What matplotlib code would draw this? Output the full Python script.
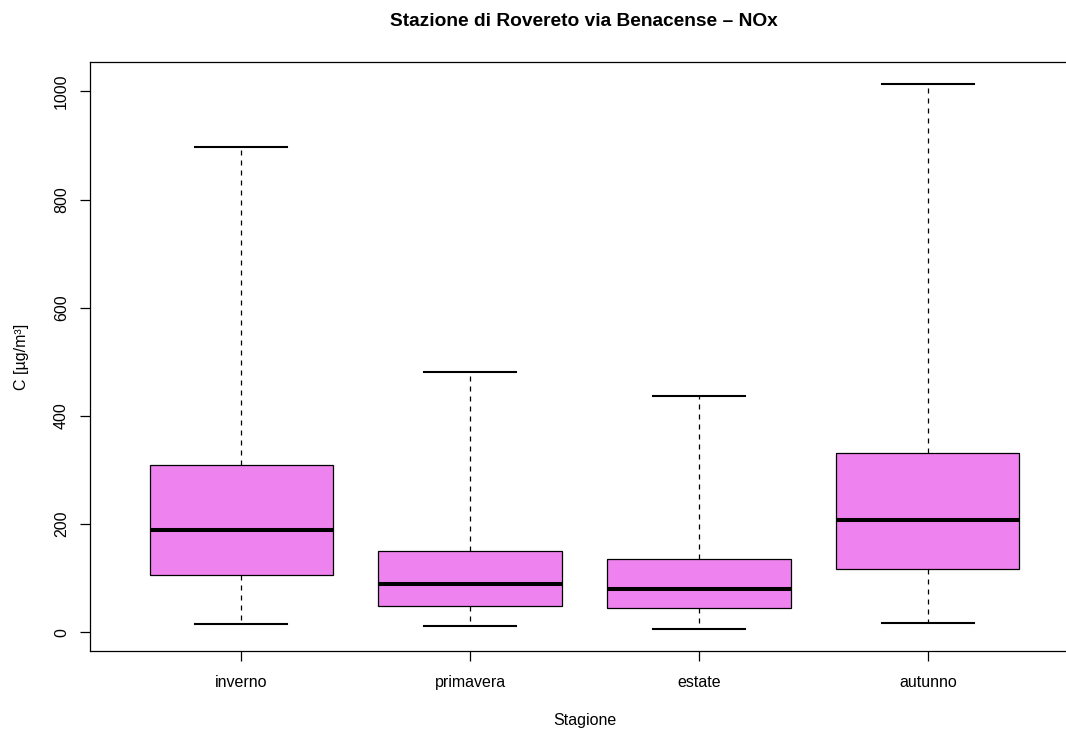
import matplotlib.pyplot as plt

plt.rcParams["font.family"] = ["Liberation Sans", "DejaVu Sans"]

# season box statistics (NOx, µg/m³)
seasons = ["inverno", "primavera", "estate", "autunno"]
whislo = [16, 12, 6, 17]
q1 = [106, 49, 46, 117]
med = [190, 89, 81, 208]
q3 = [309, 150, 135, 332]
whishi = [897, 481, 437, 1014]

stats = []
for i, name in enumerate(seasons):
    stats.append({"label": name, "whislo": whislo[i], "q1": q1[i], "med": med[i],
                  "q3": q3[i], "whishi": whishi[i], "fliers": []})

fig = plt.figure(figsize=(10.66, 7.31), dpi=100)
# plot region runs past the right edge of the picture, as in the reference
ax = fig.add_axes([90 / 1066, 1 - 651 / 731, 989 / 1066, 589 / 731])

ax.bxp(stats, positions=range(1, len(seasons) + 1), widths=0.8, patch_artist=True,
       showfliers=False,
       boxprops=dict(facecolor="violet", edgecolor="black", linewidth=0.9),
       medianprops=dict(color="black", linewidth=2.9),
       whiskerprops=dict(color="black", linewidth=0.9, linestyle=(0, (4, 4))),
       capprops=dict(color="black", linewidth=1.5),
       capwidths=0.4)

lo, hi = min(whislo), max(whishi)
pad = (hi - lo) * 0.04
ax.set_ylim(lo - pad, hi + pad)
ax.set_xlim(0.34, 4.66)
ax.set_yticks([0, 200, 400, 600, 800, 1000])
ax.set_xticks(range(1, len(seasons) + 1))
ax.set_xticklabels(seasons)
ax.tick_params(axis="y", labelrotation=90, length=7.2, width=0.9, labelsize=11.5, pad=8)
ax.tick_params(axis="x", length=7.2, width=0.9, labelsize=11.5, pad=10)
for lab in ax.get_yticklabels():
    lab.set_va("center")
for s in ax.spines.values():
    s.set_linewidth(0.9)

ax.set_xlabel("Stagione", fontsize=11.5, labelpad=17)
ax.set_ylabel("C [µg/m³]", fontsize=11.5, labelpad=18)
fig.text(584 / 1066, 1 - 22 / 731, "Stazione di Rovereto via Benacense – NOx",
         fontsize=13.8, fontweight="bold", ha="center", va="center")

fig.savefig("out.png", dpi=100)
